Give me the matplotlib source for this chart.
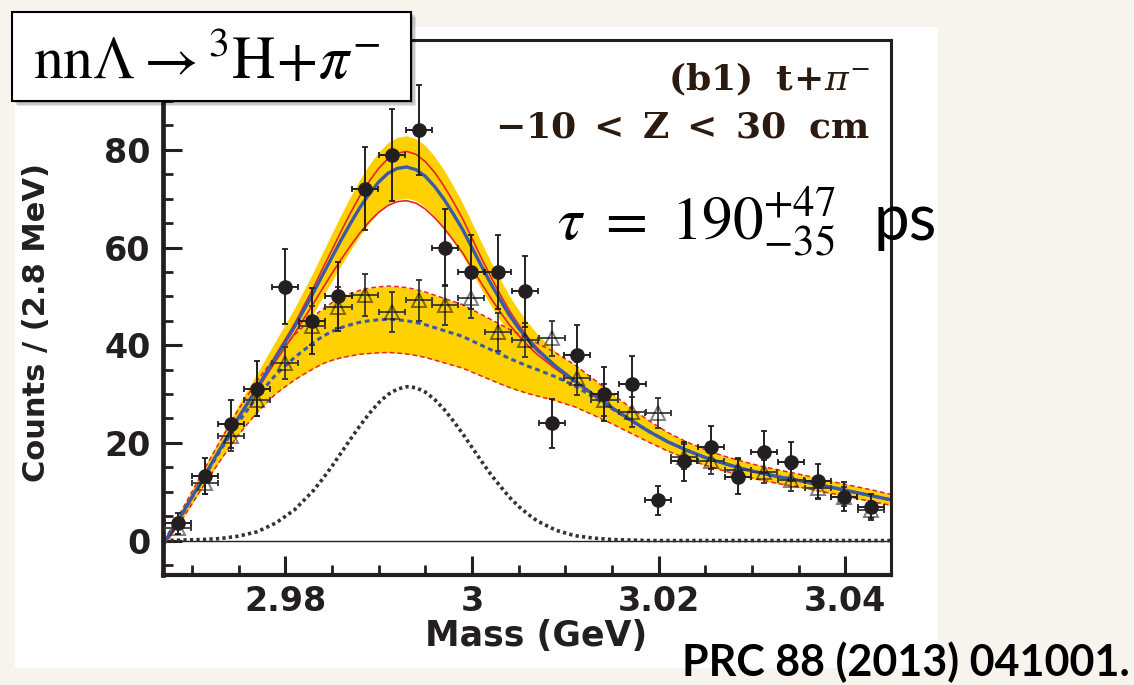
import numpy as np
import matplotlib.pyplot as plt
from matplotlib.patches import Rectangle
from matplotlib.ticker import MultipleLocator

W, H = 1134, 685

# binned data (mass in GeV, counts per 2.8 MeV)
mass = [2.9685, 2.9714, 2.9742, 2.9770, 2.9800, 2.9829, 2.9857, 2.9885, 2.9914,
        2.9943, 2.9971, 2.9999, 3.0028, 3.0057, 3.0086, 3.0113, 3.0142, 3.0172,
        3.0199, 3.0227, 3.0256, 3.0285, 3.0313, 3.0342, 3.0371, 3.0399, 3.0428]
counts = [3.5, 13.2, 23.9, 31.1, 52, 45, 50, 72, 79, 84, 60, 55, 55, 51, 24,
          38, 30, 32, 8.2, 16.2, 19.1, 13.1, 18.1, 16.1, 12.1, 9.0, 6.9]
counts_err = [2.2, 3.6, 4.9, 5.6, 7.7, 6.8, 7.1, 8.5, 9.4, 9.2, 7.8, 7.5, 7.5, 7.2,
              5.0, 6.2, 5.5, 5.7, 2.9, 4.0, 4.4, 3.6, 4.3, 4.0, 3.5, 3.0, 2.6]
tri_counts = [2.5, 11.8, 21.4, 28.8, 36.3, 44, 47.8, 50.2, 46.8, 49.2, 48.2, 49.7,
              42.7, 41.0, 41.4, 33.2, 28.8, 26.3, 26.1, 17.2, 16.2, 14.5, 14.1,
              12.4, 10.8, 9.0, 6.3]
tri_err = [1.2, 2.3, 3.0, 3.3, 3.3, 4.0, 4.2, 4.3, 4.0, 4.2, 4.1, 4.2, 3.9, 3.5,
           3.6, 3.3, 3.2, 3.0, 3.0, 2.6, 2.5, 2.4, 2.4, 2.2, 2.1, 2.0, 1.7]
half_bin = 0.0014

# fit curves
m_fit = [2.967, 2.969, 2.971, 2.973, 2.975, 2.977, 2.979, 2.981, 2.983,
         2.984, 2.985, 2.986, 2.987, 2.988, 2.989, 2.990, 2.991, 2.992, 2.993,
         2.994, 2.995, 2.996, 2.997, 2.998, 2.999, 3.000, 3.001, 3.002, 3.003,
         3.004, 3.005, 3.006,
         3.007, 3.009, 3.011, 3.013, 3.015, 3.017, 3.019, 3.021, 3.023, 3.025,
         3.027, 3.029, 3.031, 3.033, 3.035, 3.037, 3.039, 3.041, 3.043, 3.045]
bg = [-0.5, 5.5, 12.0, 18.3, 24.3, 29.5, 34.0, 37.5, 40.5,
      41.8, 42.8, 43.6, 44.2, 44.7, 45.0, 45.2, 45.3, 45.2, 45.0, 44.65, 44.2,
      43.6, 43.0, 42.4, 41.8, 40.9, 40.0, 39.1, 38.2, 37.3, 36.5, 35.7,
      35.0, 33.5, 31.7, 29.4, 27.0, 24.6, 22.3, 20.2, 18.5, 17.0, 15.8, 14.7,
      13.8, 13.0, 12.3, 11.5, 10.7, 9.9, 9.1, 8.3]
bg_err = [0.5, 1.0, 1.5, 2.0, 2.6, 3.2, 3.9, 4.6, 5.3,
          5.6, 5.9, 6.15, 6.4, 6.55, 6.7, 6.75, 6.8, 6.8, 6.8, 6.75, 6.7, 6.65,
          6.6, 6.55, 6.5, 6.4, 6.3, 6.2, 6.1, 5.95, 5.8, 5.6,
          5.4, 4.9, 4.3, 3.7, 3.1, 2.6, 2.2, 1.9, 1.7, 1.6, 1.5, 1.5, 1.4, 1.4,
          1.3, 1.3, 1.2, 1.2, 1.2, 1.1]
sig = [0, 0.1, 0.2, 0.4, 0.9, 1.8, 3.6, 6.3, 10.2,
       12.6, 15.2, 18.0, 20.8, 23.5, 26.0, 28.2, 29.9, 31.0, 31.5, 31.3, 30.4,
       28.9, 26.9, 24.5, 21.9, 19.1, 16.3, 13.6, 11.2, 8.9, 7.0, 5.4,
       4.0, 2.1, 1.0, 0.5, 0.2, 0.1, 0, 0, 0, 0, 0, 0, 0, 0, 0, 0, 0, 0, 0, 0]
tot_err = [0.6, 1.2, 1.7, 2.2, 2.6, 3.0, 3.4, 3.8, 4.3,
           4.6, 4.9, 5.2, 5.5, 5.75, 6.0, 6.15, 6.3, 6.35, 6.4, 6.35, 6.3, 6.15,
           6.0, 5.7, 5.4, 5.1, 4.8, 4.5, 4.2, 3.95, 3.7, 3.5,
           3.3, 3.0, 2.8, 2.6, 2.4, 2.2, 2.0, 1.9, 1.8, 1.7, 1.6, 1.6, 1.5, 1.5,
           1.4, 1.4, 1.3, 1.3, 1.3, 1.2]
red_hi = [-0.5, 5.6, 12.2, 18.7, 25.3, 31.5, 38.0, 44.4, 51.7,
          55.7, 59.5, 63.4, 67.1, 70.6, 73.6, 76.2, 78.2, 79.3, 79.7, 79.1, 77.6,
          75.4, 72.6, 69.4, 65.9, 61.9, 57.9, 54.1, 50.5, 47.1, 44.2, 41.6,
          39.4, 35.8, 32.8, 30.0, 27.2, 24.7, 22.3, 20.2, 18.5, 17.0, 15.8, 14.7,
          13.8, 13.0, 12.3, 11.5, 10.7, 9.9, 9.1, 8.3]
red_lo = [-0.5, 5.6, 12.2, 18.6, 25.0, 30.9, 36.8, 42.4, 48.5,
          51.6, 54.7, 57.6, 60.4, 63.0, 65.3, 67.2, 68.6, 69.4, 69.6, 69.1, 67.9,
          66.1, 64.0, 61.5, 58.9, 55.8, 52.7, 49.7, 46.9, 44.2, 42.0, 39.9,
          38.1, 35.1, 32.5, 29.8, 27.2, 24.7, 22.3, 20.2, 18.5, 17.0, 15.8, 14.7,
          13.8, 13.0, 12.3, 11.5, 10.7, 9.9, 9.1, 8.3]

xticks = [2.98, 3.00, 3.02, 3.04]
xtick_labels = ['2.98', '3', '3.02', '3.04']
yticks = [0, 20, 40, 60, 80]

gold = '#FFD100'
blue = '#3b5aa6'
red = '#e8242b'
ink = '#231f20'

bg = np.array(bg)
bg_err = np.array(bg_err)
sig = np.array(sig)
tot_err = np.array(tot_err)
total = bg + sig


def fx(px):
    return px / W


def fy(py):
    return 1 - py / H


fig = plt.figure(figsize=(W / 100, H / 100), dpi=100)
fig.patch.set_facecolor('#f7f4ee')

# white panel of the pasted figure
fig.add_artist(Rectangle((fx(15), fy(668)), fx(938 - 15), (668 - 27) / H,
                         transform=fig.transFigure, fc='white', ec='none', zorder=-5))

ax = fig.add_axes([fx(163), fy(575), fx(891 - 163), (575 - 40) / H])
ax.set_facecolor('white')

# bands
ax.fill_between(m_fit, bg - bg_err, bg + bg_err, color=gold, lw=0, zorder=1)
ax.fill_between(m_fit, total - tot_err, total + tot_err, color=gold, lw=0, zorder=1)

# curves
ax.axhline(0, color=ink, lw=1.0, zorder=2)
ax.plot(m_fit, sig, color='#333333', lw=2.6, ls=(0, (0.9, 0.9)), zorder=2)
ax.plot(m_fit, bg - bg_err, color=red, lw=1.1, ls=(0, (3, 2)), zorder=2)
ax.plot(m_fit, bg + bg_err, color=red, lw=1.1, ls=(0, (3, 2)), zorder=2)
ax.plot(m_fit, bg, color=blue, lw=2.2, ls=(0, (1.6, 1.2)), zorder=2)
ax.plot(m_fit, red_hi, color=red, lw=1.2, zorder=2)
ax.plot(m_fit, red_lo, color=red, lw=1.2, zorder=2)
ax.plot(m_fit, total, color=blue, lw=2.4, zorder=2)

# data
ax.errorbar(mass, tri_counts, yerr=tri_err, xerr=half_bin, fmt='^', ms=10,
            mfc='none', mec=(0, 0, 0, 0.5), mew=1.4, ecolor='#3a3a3a',
            elinewidth=1.3, capsize=2.5, capthick=1.2, zorder=3)
ax.errorbar(mass, counts, yerr=counts_err, xerr=half_bin, fmt='o', ms=9.5,
            mfc=ink, mec=ink, ecolor=ink, elinewidth=1.4, capsize=2.5,
            capthick=1.3, zorder=4)

ax.set_xlim(2.9669, 3.0449)
ax.set_ylim(-7.06, 102.5)
ax.set_xticks(xticks, xtick_labels)
ax.set_yticks(yticks)
ax.xaxis.set_minor_locator(MultipleLocator(0.005))
ax.yaxis.set_minor_locator(MultipleLocator(5))
ax.tick_params(which='both', direction='in', top=False, right=False, colors=ink)
ax.tick_params(which='major', length=14, width=2.2)
ax.tick_params(which='minor', length=7, width=2.0)
ax.tick_params(axis='y', pad=9)
ax.tick_params(axis='x', pad=7)
for lab in ax.get_xticklabels() + ax.get_yticklabels():
    lab.set_fontsize(24)
    lab.set_fontweight('bold')
    lab.set_color(ink)
ax.spines['left'].set_linewidth(3.4)
ax.spines['bottom'].set_linewidth(3.0)
ax.spines['top'].set_linewidth(2.2)
ax.spines['right'].set_linewidth(2.2)
for s in ax.spines.values():
    s.set_color(ink)

fig.text(fx(37), fy(322), 'Counts / (2.8 MeV)', rotation=90, ha='center',
         va='center', fontsize=22, fontweight='bold', color=ink)
fig.text(fx(536), fy(636), 'Mass (GeV)', ha='center', va='center',
         fontsize=25, fontweight='bold', color=ink)

# panel annotations
fig.text(fx(870), fy(90), r'$\mathbf{(b1)\ \ t\!+\!}\pi^{-}$', ha='right',
         va='baseline', fontsize=26, math_fontfamily='dejavuserif', color='#2a1a10')
fig.text(fx(870), fy(138), r'$\mathbf{-10\ <\ Z\ <\ 30\ \ cm}$', ha='right',
         va='baseline', fontsize=26, math_fontfamily='dejavuserif', color='#2a1a10')

fig.text(fx(557), fy(240), r'$\tau\ =\ 190^{+47}_{-35}$', ha='left',
         va='baseline', fontsize=44, math_fontfamily='stix', color='black')
fig.text(fx(874), fy(240), 'ps', ha='left', va='baseline', fontsize=46,
         family='Lato', color='black')

# reaction label box with soft shadow
for k, a in enumerate([0.10, 0.12, 0.16]):
    off = 5 - k * 1.5
    fig.add_artist(Rectangle((fx(12 + off), fy(101 + off)), fx(399), 89 / H,
                             transform=fig.transFigure, fc='black', ec='none',
                             alpha=a, zorder=9))
fig.add_artist(Rectangle((fx(12), fy(101)), fx(399), 89 / H,
                         transform=fig.transFigure, fc='white', ec='black',
                         lw=1.5, zorder=10))
fig.text(fx(33), fy(78), r'$\mathrm{nn}\Lambda \rightarrow {}^{3}\mathrm{H}\!+\!\pi^{-}$',
         ha='left', va='baseline', fontsize=43, math_fontfamily='stix',
         color='black', zorder=11)

fig.text(fx(1130), fy(676), 'PRC 88 (2013) 041001.', ha='right', va='baseline',
         fontsize=31, family='Lato', fontweight='bold', color='black')

fig.savefig('out.png', dpi=100, facecolor=fig.get_facecolor())
